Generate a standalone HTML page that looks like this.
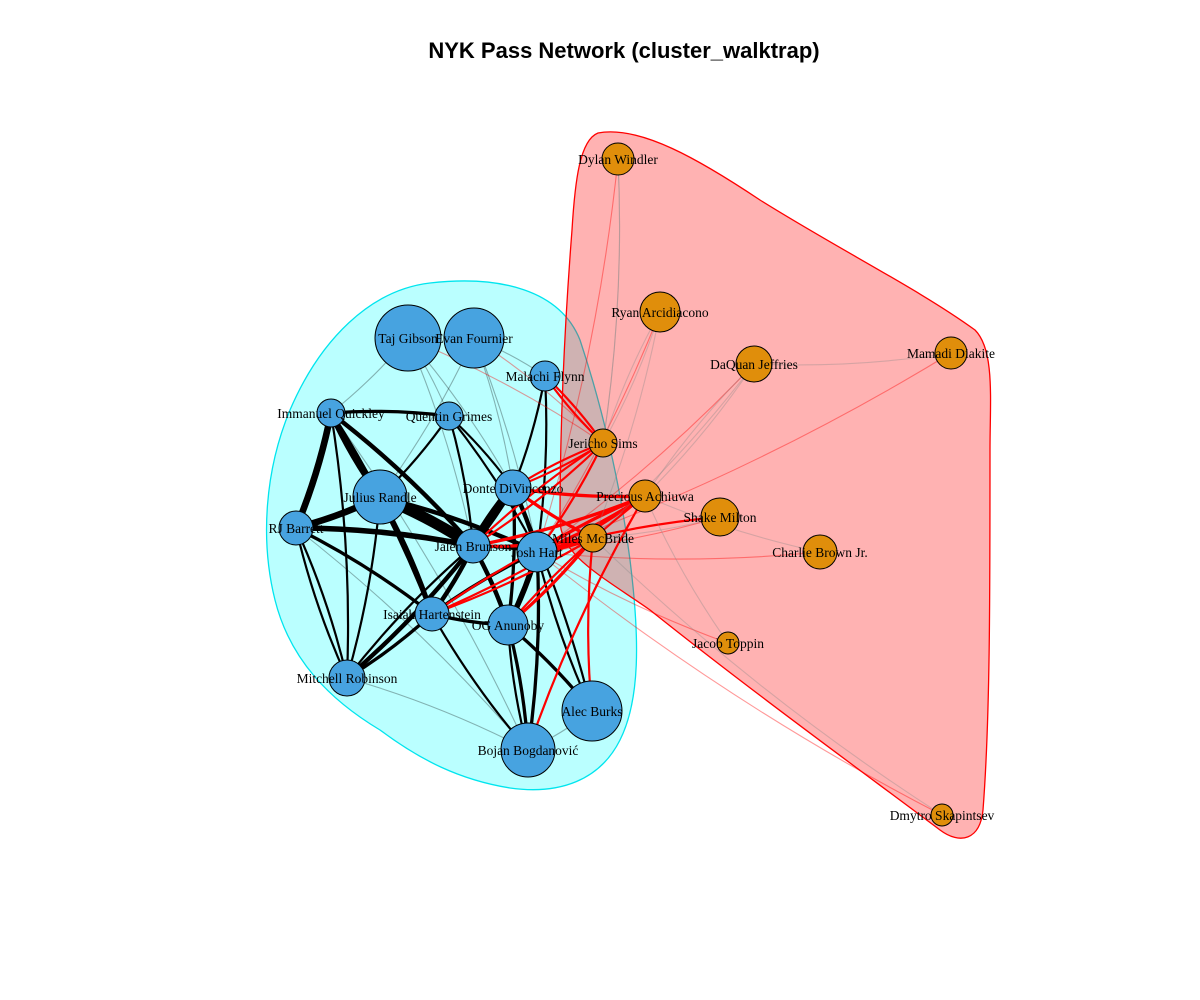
<!DOCTYPE html>
<html><head><meta charset="utf-8"><style>
body{margin:0;background:#fff;}
svg{display:block;font-family:"Liberation Serif",serif;}
</style></head><body>
<svg id="chart" width="1200" height="1000">
<rect width="1200" height="1000" fill="#fff"/>
<text x="624" y="58" text-anchor="middle" font-family="Liberation Sans, sans-serif" font-weight="bold" font-size="22">NYK Pass Network (cluster_walktrap)</text>
<path d="M430,283 C500,275 560,290 580,340 C600,400 620,480 630,560 C640,640 640,700 620,740 C600,780 560,795 510,788 C460,780 420,760 380,730 C330,700 290,660 275,600 C260,540 265,470 290,410 C320,340 370,290 430,283 Z" fill="#00ffff" fill-opacity="0.27" stroke="#00e5ee" stroke-width="1.3"/>
<path d="M598,133 C640,125 700,160 760,200 C840,250 920,290 975,330 C995,350 990,400 990,450 C990,600 990,720 983,810 C980,840 960,845 940,830 C860,770 750,690 650,610 C600,575 560,555 560,520 C560,420 565,320 572,230 C575,180 580,140 598,133 Z" fill="#ff0000" fill-opacity="0.3" stroke="#ff0000" stroke-width="1.3"/>
<g id="edges"></g>
<g id="nodes"></g>
</svg>
<script>
const names=["Taj Gibson","Evan Fournier","Malachi Flynn","Immanuel Quickley","Quentin Grimes","Julius Randle","Donte DiVincenzo","RJ Barrett","Jalen Brunson","Josh Hart","Isaiah Hartenstein","OG Anunoby","Mitchell Robinson","Alec Burks","Bojan Bogdanović","Dylan Windler","Ryan Arcidiacono","DaQuan Jeffries","Mamadi Diakite","Jericho Sims","Precious Achiuwa","Shake Milton","Miles McBride","Charlie Brown Jr.","Jacob Toppin","Dmytro Skapintsev"];
const layoutX=[408,474,545,331,449,380,513,296,473,537,432,508,347,592,528,618,660,754,951,603,645,720,593,820,728,942];
const layoutY=[338,338,376,413,416,497,488,528,546,552,614,625,678,711,750,159,312,364,353,443,496,517,538,552,643,815];
const nodeSize=[33,30,15,14,14,27,18,17,17,20,17,20,18,30,27,16,20,18,16,14,16,19,14,17,11,11];
const cluster=[1,1,1,1,1,1,1,1,1,1,1,1,1,1,1,2,2,2,2,2,2,2,2,2,2,2];
const edgeFrom=[5,5,5,5,5,3,3,3,3,7,7,8,8,8,8,8,6,6,6,9,9,10,10,11,11,4,4,4,0,1,2,2,12,12,13,14,14,3,7,5,6,4,0,1,12,13,11,0,1,0,1,3,7,
 22,22,22,22,20,20,20,20,19,19,19,9,9,8,6,2,11,14,13,10,20,22,19,
 15,16,17,18,21,23,24,25,16,17,21,23,19,20,24,0,1,15,18,25,15,16,17];
const edgeTo=[8,7,3,10,9,7,8,10,4,8,10,9,10,11,6,12,9,8,11,11,14,12,9,14,13,8,6,5,4,2,6,9,8,7,9,11,10,12,12,12,13,9,3,5,14,14,10,8,9,6,6,14,14,
 9,8,6,11,20,9,8,6,9,8,6,20,21,19,19,19,20,20,22,20,10,10,2,
 9,9,9,9,9,9,9,9,19,20,22,20,16,17,20,19,19,19,17,22,19,22,22];
const edgeWeight=[10,6,5,4,4,6,4,4,3,5,3,3,4,4,8,4,4,3,3,5,3,3,3,3,3,2,2,2,1,1,2,2,2,2,2,2,2,2,2,2,2,2,1,1,1,1,3,1,1,1,1,1,1,
 4,3,3,3,4,3,3,3,2,2,2,3,2,2,2,2,2,2,2,2,2,2,2,
 1,1,1,1,1,1,1,1,1,1,1,1,1,1,1,1,1,1,1,1,1,1,1];
const NS="http://www.w3.org/2000/svg";
const sx=i=>layoutX[i], sy=i=>layoutY[i];
const eg=document.getElementById('edges'), ng=document.getElementById('nodes');
for(let k=0;k<edgeFrom.length;k++){
 const a=edgeFrom[k],b=edgeTo[k];
 const p=document.createElementNS(NS,'path');
 const mx=(sx(a)+sx(b))/2+(sy(b)-sy(a))*0.05, my=(sy(a)+sy(b))/2-(sx(b)-sx(a))*0.05;
 p.setAttribute('d',`M${sx(a)},${sy(a)} Q${mx},${my} ${sx(b)},${sy(b)}`);
 let col,op;
 if(cluster[a]===1&&cluster[b]===1){col='#000';op=edgeWeight[k]>1?1:0.3;}
 else if(cluster[a]!==cluster[b]){col='#ff0000';op=edgeWeight[k]>1?1:0.4;}
 else {col='#888';op=0.35;}
 p.setAttribute('stroke',col);p.setAttribute('stroke-opacity',op);p.setAttribute('fill','none');
 p.setAttribute('stroke-width',edgeWeight[k]*1.1);
 
 
 eg.appendChild(p);
}
for(let i=0;i<names.length;i++){
 const c=document.createElementNS(NS,'circle');
 c.setAttribute('cx',sx(i));c.setAttribute('cy',sy(i));c.setAttribute('r',nodeSize[i]);
 c.setAttribute('fill',cluster[i]===1?'#47a3e0':'#e08e0b');c.setAttribute('stroke','#000');c.setAttribute('stroke-width','1');
 
 
 ng.appendChild(c);
}
for(let i=0;i<names.length;i++){
 const t=document.createElementNS(NS,'text');
 t.setAttribute('x',sx(i));t.setAttribute('y',sy(i)+5);t.setAttribute('text-anchor','middle');t.setAttribute('font-size','13.5');
 t.textContent=names[i];
 
 
 ng.appendChild(t);
}
</script>
</body></html>
